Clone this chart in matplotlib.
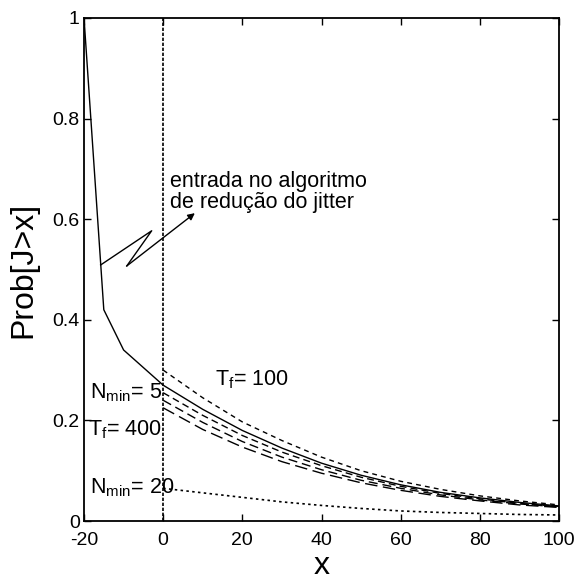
import numpy as np
import matplotlib.pyplot as plt

plt.rcParams['font.family'] = ['Liberation Sans', 'DejaVu Sans']
plt.rcParams['mathtext.default'] = 'regular'
plt.rcParams['axes.unicode_minus'] = False

# solid curve (no jitter-reduction), starts at x=-20
x_solid = [-20, -15, -10, -5, 0, 10, 20, 30, 40, 50, 60, 70, 80, 90, 100]
p_solid = [1.0, 0.42, 0.34, 0.305, 0.27, 0.222, 0.18, 0.145, 0.115, 0.091, 0.072, 0.057, 0.046, 0.037, 0.03]

# curves after entering the algorithm (x >= 0)
x_alg = [0, 10, 20, 30, 40, 50, 60, 70, 80, 90, 100]
p_tf100 = [0.30, 0.245, 0.197, 0.16, 0.127, 0.10, 0.079, 0.063, 0.05, 0.04, 0.032]
p_mid1 = [0.255, 0.21, 0.17, 0.137, 0.11, 0.087, 0.069, 0.055, 0.044, 0.035, 0.029]
p_mid2 = [0.24, 0.196, 0.158, 0.127, 0.102, 0.081, 0.065, 0.052, 0.042, 0.034, 0.028]
p_tf400 = [0.225, 0.182, 0.147, 0.118, 0.095, 0.076, 0.061, 0.049, 0.04, 0.032, 0.027]
p_nmin20 = [0.065, 0.056, 0.047, 0.038, 0.031, 0.025, 0.02, 0.017, 0.015, 0.013, 0.012]

# zigzag arrow path (data coords)
zig_x = [-15.8, -2.9, -9.2, 8.0]
zig_y = [0.509, 0.577, 0.507, 0.612]

fig = plt.figure(figsize=(5.77, 5.80), dpi=100)
ax = fig.add_axes([0.1456, 0.1017, 0.8232, 0.8673])

ax.plot(x_solid, p_solid, color='black', lw=1.0)
ax.plot(x_alg, p_tf100, color='black', lw=1.0, dashes=(3.5, 3))
ax.plot(x_alg, p_mid1, color='black', lw=1.0, dashes=(5, 3))
ax.plot(x_alg, p_mid2, color='black', lw=1.0, dashes=(6.5, 3.5))
ax.plot(x_alg, p_tf400, color='black', lw=1.0, dashes=(9, 4))
ax.plot(x_alg, p_nmin20, color='black', lw=1.2, dashes=(1.5, 2))
ax.plot([0, 0], [0, 1], color='black', lw=1.2, dashes=(2, 1))

# zigzag pointer
ax.plot(zig_x[:3], zig_y[:3], color='black', lw=1.0)
ax.annotate('', xy=(zig_x[3], zig_y[3]), xytext=(zig_x[2], zig_y[2]),
            arrowprops=dict(arrowstyle='-|>', color='black', lw=1.0,
                            mutation_scale=10, shrinkA=0, shrinkB=0))
ax.text(1.7, 0.655, 'entrada no algoritmo\nde redução do jitter',
        fontsize=15.5, va='center', ha='left', linespacing=1.0)

ax.text(13.1, 0.28, 'T$_{f}$= 100', fontsize=15.5, va='center')
ax.text(-18.6, 0.256, 'N$_{min}$= 5', fontsize=15.5, va='center')
ax.text(-19.0, 0.181, 'T$_{f}$= 400', fontsize=15.5, va='center')
ax.text(-18.6, 0.066, 'N$_{min}$= 20', fontsize=15.5, va='center')

ax.set_xlim(-20, 100)
ax.set_ylim(0, 1)
ax.set_xticks([-20, 0, 20, 40, 60, 80, 100])
ax.set_yticks([0, 0.2, 0.4, 0.6, 0.8, 1])
ax.set_yticklabels(['0', '0.2', '0.4', '0.6', '0.8', '1'])
ax.tick_params(direction='in', length=5, width=1.0, top=True, right=True,
               labelsize=14)
ax.tick_params(axis='x', pad=8)
ax.tick_params(axis='y', pad=3)
for s in ax.spines.values():
    s.set_linewidth(1.3)

ax.set_xlabel('x', fontsize=23, labelpad=1)
ax.set_ylabel('Prob[J>x]', fontsize=23, labelpad=10)

fig.savefig('out.png', dpi=100)
